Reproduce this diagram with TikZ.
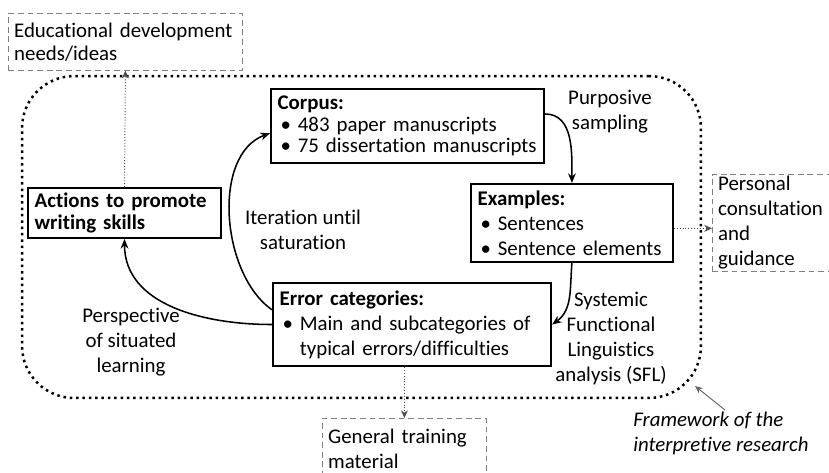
\documentclass[tikz,border=0pt]{standalone}
\usepackage{fontspec}
\setmainfont{Carlito}[Ligatures=NoCommon]
\usepackage{tikz}
\usetikzlibrary{positioning, arrows.meta}

\newcommand{\bitem}{\hspace*{1.5pt}\makebox[9pt][l]{\textbullet}}

\begin{document}
\begin{tikzpicture}[
    x=0.52pt, y=-0.52pt,
    font=\fontsize{10.85}{13}\selectfont,
    stage/.style={rectangle, draw, line width=1pt, align=left, inner xsep=3.5pt, inner ysep=1pt, anchor=north west},
    outcome/.style={rectangle, draw=gray, densely dashed, line width=0.4pt, align=left, inner xsep=3pt, inner ysep=1pt, anchor=north west},
    frame/.style={rectangle, draw, dotted, line width=1.3pt, rounded corners=27pt, minimum width=353pt, minimum height=167.4pt},
    note/.style={align=center, inner sep=1pt},
    arrow/.style={-{Stealth[length=5pt,width=4pt]}, line width=0.8pt},
    hint/.style={-{Stealth[length=4pt,width=3.5pt]}, densely dotted, draw=black!70, line width=0.5pt}
]
\useasboundingbox (0,0) rectangle (829,472);

% Framework
\node[frame] (frame) at (361.5,237) {};

% Stages
\node[stage, text width=135pt, minimum height=38.5pt, font=\fontsize{10.85}{11.2}\selectfont] (corpus) at (270,88)
    {\textbf{Corpus:}\\\bitem 483 paper manuscripts\\\bitem 75 dissertation manuscripts};
\node[stage, text width=98pt, minimum height=40.6pt] (examples) at (470,183)
    {\textbf{Examples:}\\\bitem Sentences\\\bitem Sentence elements};
\node[stage, text width=137.6pt, minimum height=43.2pt] (errors) at (272,282)
    {\textbf{Error categories:}\\\bitem Main and subcategories of\\\hspace*{10.5pt}typical errors/difficulties};
\node[stage, text width=93.4pt, minimum height=26pt, font=\fontsize{10.85}{11.5}\selectfont] (actions) at (27,187)
    {\textbf{Actions to promote}\\\textbf{writing skills}};

% Outcomes
\node[outcome, text width=115.7pt, minimum height=29.6pt, font=\fontsize{10.85}{12}\selectfont] (needs) at (8,13)
    {Educational development\\needs/ideas};
\node[outcome, text width=60pt, minimum height=43.2pt] (consult) at (712,174)
    {Personal\\consultation\\and\\guidance};
\node[outcome, text width=79.3pt, minimum height=32pt] (training) at (322,418)
    {General training\\material};

% Labels
\node[note] (sampling) at (610,112) {Purposive\\sampling};
\node[note] (iteration) at (303,230) {Iteration until\\saturation};
\node[note] (situated) at (131,342) {Perspective\\of situated\\learning};
\node[note] (sfl) at (611,338) {Systemic\\Functional\\Linguistics\\analysis (SFL)};
\node[note, align=left, anchor=north west, font=\fontsize{10.85}{13}\selectfont\itshape] (fwnote) at (631,410)
    {Framework of the\\interpretive research};

% Arrows
\draw[arrow] (corpus.5) to[out=0, in=90] (examples.north);
\draw[arrow] (examples.south) to[out=-95, in=35] (errors.east);
\draw[arrow] (errors.174) to[out=145, in=200, looseness=0.9] (corpus.183);
\draw[arrow] (errors.west) to[out=180, in=-90] (actions.south);

\coordinate (fwtip) at (695,386);
\draw[hint] (actions.north) -- (needs.south);
\draw[hint] (examples.-3) -- (examples.-3 -| consult.west);
\draw[hint] (training.north |- errors.south) -- (training.north);
\draw[-{Stealth[length=4pt,width=3.5pt]}, draw=black!60, line width=0.5pt] (fwnote.north west) ++(94,0) -- (fwtip);

\end{tikzpicture}
\end{document}
